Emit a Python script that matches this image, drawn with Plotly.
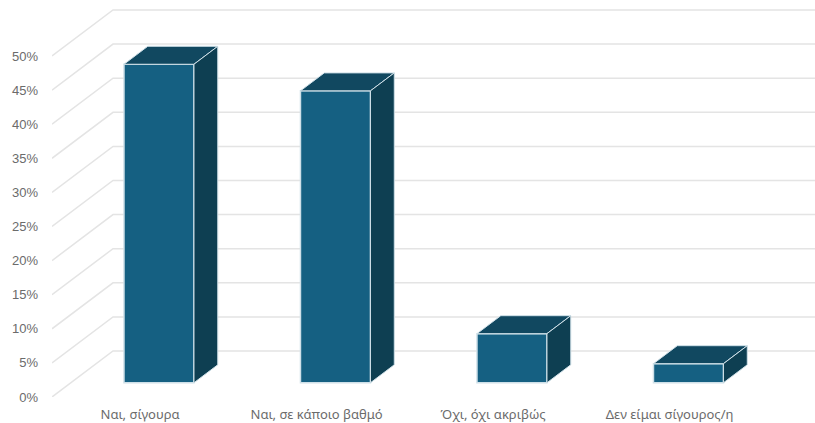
import plotly.graph_objects as go

categories = ["Ναι, σίγουρα", "Ναι, σε κάποιο βαθμό", "Όχι, όχι ακριβώς", "Δεν είμαι σίγουρος/η"]
values = [46.7, 42.8, 7.2, 2.8]
y_ticks = [0, 5, 10, 15, 20, 25, 30, 35, 40, 45, 50]

# projection of the 3D box (in axis units)
PX_PER_CAT = 176.5
PX_PER_VAL = 6.82
DEPTH_X = 61 / PX_PER_CAT
DEPTH_Y = 46 / PX_PER_VAL
BAR_W = 70 / PX_PER_CAT
FRONT, BACK = 0.31, 0.70
x_min = -0.499
x_max = x_min + 763 / PX_PER_CAT
y_max = 392 / PX_PER_VAL

FACE, TOP, SIDE, EDGE, GRID = "#156082", "#114860", "#0e3f52", "#cfe0e8", "#e4e4e4"
positions = list(range(len(categories)))

fig = go.Figure()
for p, v in zip(positions, values):
    xl = p + FRONT * DEPTH_X - BAR_W / 2
    xr = xl + BAR_W
    fy0, by0 = FRONT * DEPTH_Y, BACK * DEPTH_Y
    d = (BACK - FRONT)
    fig.add_trace(go.Scatter(
        x=[xl, xr, xr + d * DEPTH_X, xl + d * DEPTH_X, xl],
        y=[fy0 + v, fy0 + v, by0 + v, by0 + v, fy0 + v],
        mode="lines", fill="toself", fillcolor=TOP, line=dict(color=EDGE, width=1),
        hoverinfo="skip", showlegend=False))
    fig.add_trace(go.Scatter(
        x=[xr, xr + d * DEPTH_X, xr + d * DEPTH_X, xr, xr],
        y=[fy0, by0, by0 + v, fy0 + v, fy0],
        mode="lines", fill="toself", fillcolor=SIDE, line=dict(color=EDGE, width=1),
        hoverinfo="skip", showlegend=False))
    fig.add_trace(go.Bar(
        x=[(xl + xr) / 2], y=[v], base=[fy0], width=[BAR_W],
        marker=dict(color=FACE, line=dict(color=EDGE, width=1.5)),
        hoverinfo="skip", showlegend=False))

shapes = []
for t in y_ticks:
    bx, by = x_min + DEPTH_X, t + DEPTH_Y
    shapes.append(dict(type="path", layer="below", xref="x", yref="y",
                       path=f"M {x_min},{t} L {bx},{by} L {x_max},{by}",
                       line=dict(color=GRID, width=1.5)))

fig.update_layout(
    width=815, height=423, autosize=False,
    margin=dict(l=52, r=0, t=5, b=26, pad=0),
    paper_bgcolor="white", plot_bgcolor="white",
    shapes=shapes, barmode="overlay",
    xaxis=dict(range=[x_min, x_max], tickmode="array", tickvals=positions, ticktext=categories,
               showgrid=False, zeroline=False, showline=False, ticks="",
               ticklabelstandoff=8, tickfont=dict(family="Noto Sans", size=13, color="#6b6b6b")),
    yaxis=dict(range=[0, y_max], tickmode="array", tickvals=y_ticks, ticktext=[f"{t}%" for t in y_ticks],
               showgrid=False, zeroline=False, showline=False, ticks="",
               ticklabelstandoff=13, tickfont=dict(family="Liberation Sans", size=13, color="#6b6b6b")),
)
fig.write_html("out.html", config={"displayModeBar": False}, post_script="document.body.style.margin='0';")
